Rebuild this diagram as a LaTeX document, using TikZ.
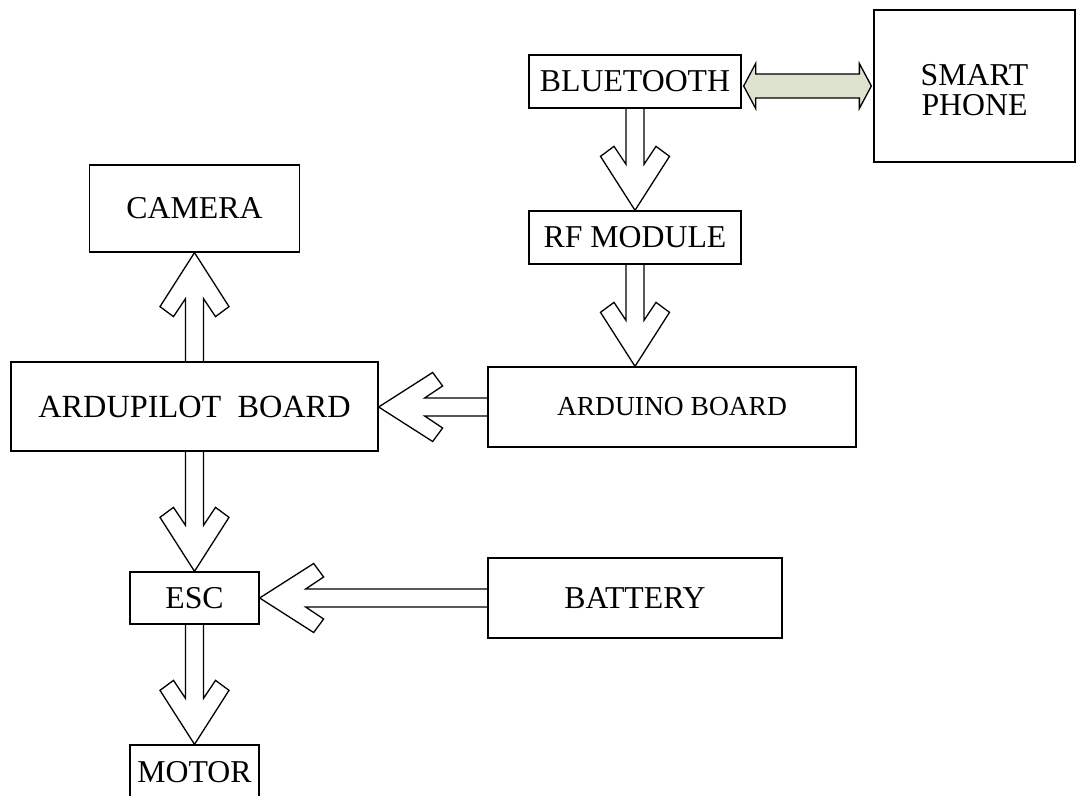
\documentclass[tikz,border=0pt]{standalone}
\usepackage{fontspec}
\setmainfont{Liberation Serif}
\usetikzlibrary{calc}
\definecolor{sauge}{RGB}{221,227,206}

\begin{document}
\begin{tikzpicture}[x=1pt,y=1pt]
\clip (0,0) rectangle (1078,795);
% définition des styles
\tikzstyle{bloc}=[rectangle, draw=black, line width=1.3pt, inner sep=0pt, align=center, font=\fontsize{31.8}{30}\selectfont]
\tikzstyle{fleche}=[draw=black, line width=1.3pt, line join=miter, to path={let \p1=(\tikztostart), \p2=(\tikztotarget), \n1={atan2(\y2-\y1,\x2-\x1)}, \n2={veclen(\x2-\x1,\y2-\y1)} in [shift={(\p1)}, rotate=\n1] (0,9) -- (\n2-46,9) -- (\n2-64,21) -- (\n2-54,34.5) -- (\n2,0) -- (\n2-54,-34.5) -- (\n2-64,-21) -- (\n2-46,-9) -- (0,-9)}]
\tikzstyle{doublefleche}=[draw=black, fill=sauge, line width=1.3pt, to path={let \p1=(\tikztostart), \p2=(\tikztotarget), \n1={atan2(\y2-\y1,\x2-\x1)}, \n2={veclen(\x2-\x1,\y2-\y1)} in [shift={(\p1)}, rotate=\n1] (2,0) -- (14,22.5) -- (14,12) -- (\n2-14,12) -- (\n2-14,22.5) -- (\n2-2,0) -- (\n2-14,-22.5) -- (\n2-14,-12) -- (14,-12) -- (14,-22.5) -- cycle}]

% les nœuds
\node[bloc, minimum width=212pt, minimum height=53pt] (bt) at (635,713.5) {BLUETOOTH};
\node[bloc, minimum width=201pt, minimum height=152pt, text height=60pt, text depth=0pt] (phone) at (974.5,709) {SMART\\PHONE};
\node[bloc, minimum width=210pt, minimum height=87pt] (cam) at (194.5,586.5) {CAMERA};
\node[bloc, minimum width=212pt, minimum height=53pt] (rf) at (635,557.5) {RF MODULE};
\node[bloc, minimum width=367pt, minimum height=89pt, font=\fontsize{32.3}{36}\selectfont] (apb) at (194.5,388.5) {ARDUPILOT\ \ BOARD};
\node[bloc, minimum width=368pt, minimum height=80pt, font=\fontsize{27.5}{32}\selectfont] (ardb) at (672,388) {ARDUINO BOARD};
\node[bloc, minimum width=129pt, minimum height=52pt] (esc) at (194.5,197) {ESC};
\node[bloc, minimum width=294pt, minimum height=80pt] (bat) at (635,197) {BATTERY};
\node[bloc, minimum width=129pt, minimum height=54pt] (motor) at (194.5,23) {MOTOR};

% les flèches
\draw[fleche] (bt.south) to (rf.north);
\draw[fleche] (rf.south) to (rf.south |- ardb.north);
\draw[fleche] (ardb.west) to (apb.east |- ardb.west);
\draw[fleche] (apb.north) to (cam.south);
\draw[fleche] (apb.south) to (esc.north);
\draw[fleche] (bat.west) to (esc.east);
\draw[fleche] (esc.south) to (motor.north);
\draw[doublefleche] (bt.east |- phone.west) to (phone.west);
\end{tikzpicture}
\end{document}
